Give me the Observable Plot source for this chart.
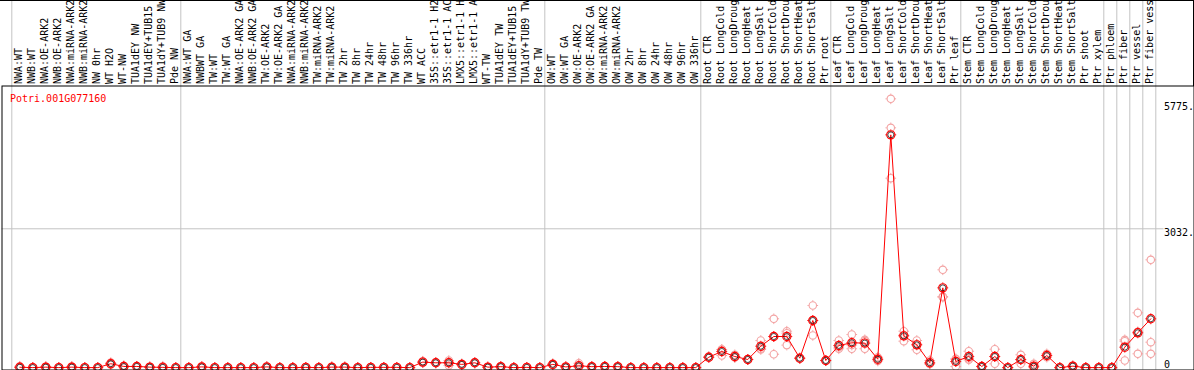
<!DOCTYPE html>
<html><head><meta charset="utf-8">
<script src="https://cdn.jsdelivr.net/npm/d3@7"></script>
<script src="https://cdn.jsdelivr.net/npm/@observablehq/plot@0.6"></script>
<style>
html,body{margin:0;padding:0;background:#fff;}
#wrap{position:relative;width:1194px;height:370px;overflow:hidden;}
#wrap svg{display:block;}
#border{position:absolute;left:0;top:0;width:1194px;height:86px;border-top:1px solid #000;border-right:1px solid #000;box-sizing:border-box;pointer-events:none;}
</style></head><body><div id="wrap"><div id="border"></div></div>
<script>
const geneId = "Potri.001G077160";
const samples = [
  "NWA:WT","NWB:WT","NWA:OE-ARK2","NWB:OE-ARK2","NWA:miRNA-ARK2","NWB:miRNA-ARK2","NW 0hr","WT H2O","WT-NW","TUA1dEY NW","TUA1dEY+TUB15 NW","TUA1dY+TUB9 NW","Pde NW",
  "NWA:WT GA","NWBWT GA","TW:WT","TW:WT GA","NWA:OE-ARK2 GA","NWB:OE-ARK2 GA","TW:OE-ARK2","TW:OE-ARK2 GA","NWA:miRNA-ARK2 GA","NWB:miRNA-ARK2 GA","TW:miRNA-ARK2","TW:miRNA-ARK2 GA",
  "TW 2hr","TW 8hr","TW 24hr","TW 48hr","TW 96hr","TW 336hr","WT ACC","35S::etr1-1 H2O","35S::etr1-1 ACC","LMX5::etr1-1 H2O","LMX5::etr1-1 ACC","WT-TW","TUA1dEY TW","TUA1dEY+TUB15 TW","TUA1dY+TUB9 TW","Pde TW",
  "OW:WT","OW:WT GA","OW:OE-ARK2","OW:OE-ARK2 GA","OW:miRNA-ARK2","OW:miRNA-ARK2 GA","OW 2hr","OW 8hr","OW 24hr","OW 48hr","OW 96hr","OW 336hr",
  "Root CTR","Root LongCold","Root LongDrought","Root LongHeat","Root LongSalt","Root ShortCold","Root ShortDrought","Root ShortHeat","Root ShortSalt","Ptr root",
  "Leaf CTR","Leaf LongCold","Leaf LongDrought","Leaf LongHeat","Leaf LongSalt","Leaf ShortCold","Leaf ShortDrought","Leaf ShortHeat","Leaf ShortSalt","Ptr leaf",
  "Stem CTR","Stem LongCold","Stem LongDrought","Stem LongHeat","Stem LongSalt","Stem ShortCold","Stem ShortDrought","Stem ShortHeat","Stem ShortSalt","Ptr shoot",
  "Ptr xylem","Ptr phloem","Ptr fiber","Ptr vessel","Ptr fiber vessel"
];
const means = [
  8,0,10,0,10,0,0,85,25,25,10,5,0,
  0,15,0,0,0,0,15,0,0,5,0,10,
  10,0,5,5,5,0,120,105,105,70,105,10,20,0,5,0,
  70,15,40,20,25,20,0,0,0,0,0,0,
  227,352,242,177,467,679,679,205,1029,155,
  483,542,535,183,5084,694,497,105,1742,133,
  242,24,242,0,177,31,264,0,31,0,
  0,0,446,760,1066
];
const rep1 = [
  30,0,20,0,25,0,0,110,0,30,15,30,0,
  0,25,0,0,0,0,20,0,0,5,0,15,
  15,0,5,5,5,0,140,110,155,85,115,10,30,0,5,0,
  90,20,95,25,30,20,0,0,0,0,0,0,
  240,395,280,177,592,1066,795,200,1356,160,
  592,723,607,227,5870,795,592,155,2136,192,
  358,30,402,0,280,83,301,0,40,0,
  0,0,607,1197,2354
];
const rep2 = [
  0,0,10,0,5,0,0,80,40,25,10,0,0,
  0,15,0,0,0,0,15,0,0,5,0,10,
  10,0,5,5,5,0,115,105,115,70,105,10,20,0,5,0,
  65,15,20,20,25,20,0,0,0,0,0,0,
  220,397,227,180,395,679,751,210,1029,150,
  411,411,411,177,5237,710,510,83,1553,183,
  200,24,241,0,168,10,264,0,30,0,
  0,0,576,782,555
];
const rep3 = [
  0,0,0,0,0,0,0,65,35,20,5,0,0,
  0,5,0,0,0,0,10,0,0,5,0,5,
  5,0,5,5,5,0,105,100,45,55,95,10,10,0,5,0,
  55,10,5,15,20,20,0,0,0,0,0,0,
  221,264,219,174,414,292,491,205,702,155,
  446,492,581,145,4137,577,389,77,1537,24,
  170,18,83,0,83,0,227,0,23,0,
  0,0,155,301,301
];
const groupStarts = [0, 13, 41, 53, 63, 73, 84, 85, 86, 87, 88];
const yTickValues = [3032, 5775];
const yZeroTick = [0];
const gridValues = [3032];

const reps = [];
[rep1, rep2, rep3].forEach(arr => arr.forEach((v, i) => reps.push({i, v})));
const meanRows = means.map((v, i) => ({i, v}));

const gridShift = -8 / 13;
const labelShift = -1 / 13;
const markerR = 3.7;
const meanR = 4.1;

function makeTicks(rad, len) {
  return {
    draw(ctx) {
      const a = rad + 0.3, b = rad + len;
      ctx.moveTo(0, -a); ctx.lineTo(0, -b);
      ctx.moveTo(0, a); ctx.lineTo(0, b);
      ctx.moveTo(-a, 0); ctx.lineTo(-b, 0);
      ctx.moveTo(a, 0); ctx.lineTo(b, 0);
    }
  };
}
const repTicks = makeTicks(markerR, 1.6);
const meanTicks = makeTicks(meanR, 1.3);

const chart = Plot.plot({
  width: 1194,
  height: 370,
  marginTop: 85.5,
  marginLeft: 1.5,
  marginRight: 0.5,
  marginBottom: 0.5,
  x: {type: "linear", domain: [0, 87], range: [19.3, 1150.3], axis: null},
  y: {type: "linear", domain: [0, 5775], range: [367.1, 102.7], axis: null},
  style: {fontFamily: "'DejaVu Sans Mono', monospace", fontSize: "10px", background: "#fff", color: "#000"},
  marks: [
    Plot.ruleX(groupStarts, {x: d => d + gridShift, stroke: "#c4c4c4", strokeWidth: 1, insetTop: -86}),
    Plot.ruleY(gridValues, {y: d => d, stroke: "#c4c4c4", strokeWidth: 1, insetRight: 30}),
    Plot.text(samples, {x: (d, i) => i + labelShift, text: d => d, frameAnchor: "top", rotate: -90, textAnchor: "start", lineAnchor: "middle", dy: -2, fill: "#000"}),
    Plot.text([geneId], {text: d => d, frameAnchor: "top-left", textAnchor: "start", lineAnchor: "top", dx: 8, dy: 8.5, fill: "#ff0000"}),
    Plot.text(yTickValues, {y: d => d, text: d => d + ".", frameAnchor: "right", textAnchor: "start", lineAnchor: "top", dx: -30, fill: "#000"}),
    Plot.text(yZeroTick, {y: d => d, text: d => String(d), frameAnchor: "right", textAnchor: "start", lineAnchor: "bottom", dx: -30, fill: "#000"}),
    Plot.dot(reps, {x: "i", y: "v", r: markerR, stroke: "#f3a3a3", strokeWidth: 1.1, fill: "none"}),
    Plot.dot(reps, {x: "i", y: "v", symbol: repTicks, stroke: "#f3a3a3", strokeWidth: 1, fill: "none"}),
    Plot.line(meanRows, {x: "i", y: "v", stroke: "#ff0000", strokeWidth: 1}),
    Plot.dot(meanRows, {x: "i", y: "v", r: meanR, stroke: "#ff0000", strokeWidth: 1.2, fill: "none"}),
    Plot.dot(meanRows, {x: "i", y: "v", symbol: meanTicks, stroke: "#ff0000", strokeWidth: 1, fill: "none"}),
    Plot.dot(meanRows, {x: "i", y: "v", r: meanR - 1.1, stroke: "#000", strokeWidth: 0.7, fill: "none"}),
    Plot.frame({stroke: "#000", strokeWidth: 1})
  ]
});
document.getElementById("wrap").prepend(chart);
</script>
</body></html>
